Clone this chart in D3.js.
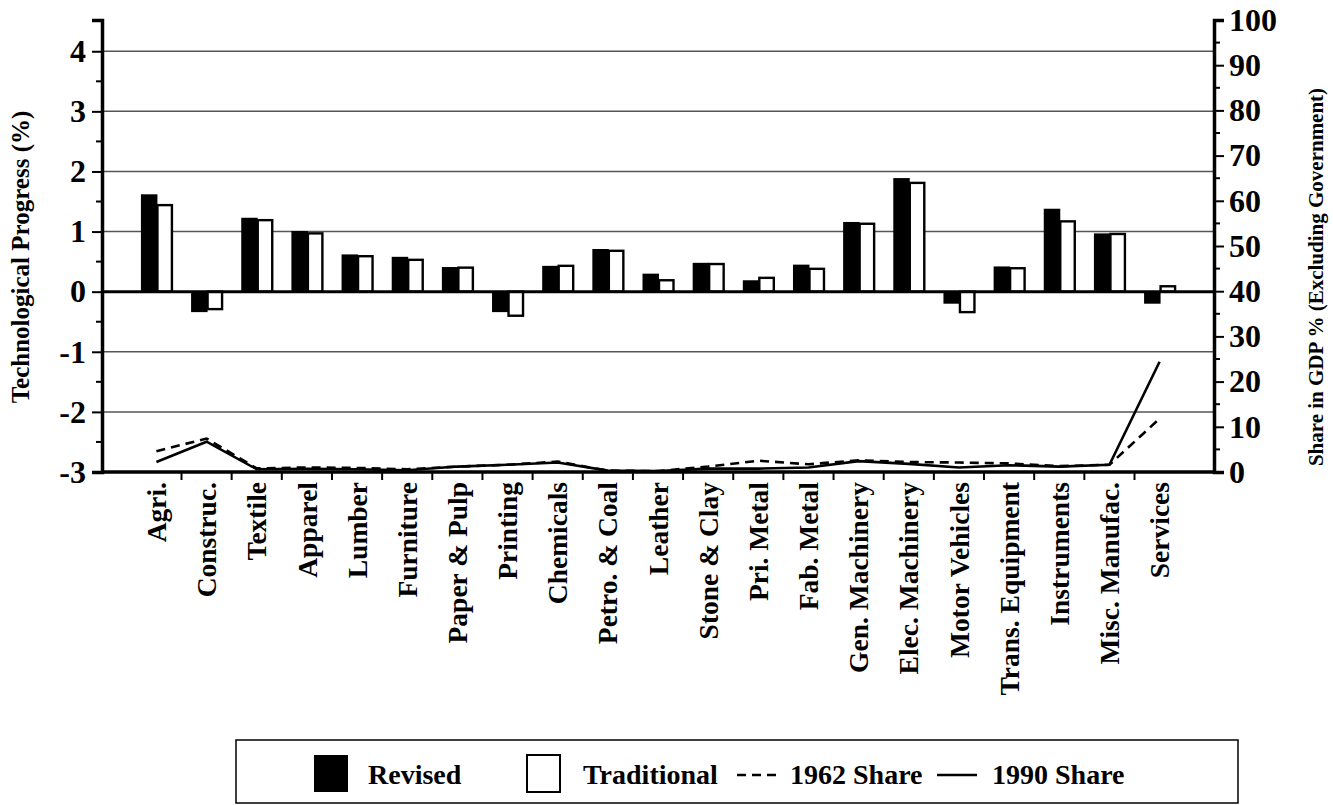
<!DOCTYPE html>
<html>
<head>
<meta charset="utf-8">
<script src="https://cdn.jsdelivr.net/npm/d3@7"></script>
<style>
  html, body { margin: 0; padding: 0; background: #fff; }
  svg { display: block; font-family: "Liberation Serif", "Times New Roman", serif; font-weight: bold; }
</style>
</head>
<body>
<svg id="chart" width="1333" height="805"></svg>
<script>
// Industry categories along the x axis
const categories = ["Agri.", "Construc.", "Textile", "Apparel", "Lumber", "Furniture",
  "Paper & Pulp", "Printing", "Chemicals", "Petro. & Coal", "Leather", "Stone & Clay",
  "Pri. Metal", "Fab. Metal", "Gen. Machinery", "Elec. Machinery", "Motor Vehicles",
  "Trans. Equipment", "Instruments", "Misc. Manufac.", "Services"];

// Technological progress (%), left axis
const revised     = [1.62, -0.34, 1.23, 1.01, 0.62, 0.58, 0.41, -0.34, 0.43, 0.71, 0.30, 0.48, 0.19, 0.45, 1.16, 1.89, -0.20, 0.42, 1.38, 0.97, -0.20];
const traditional = [1.44, -0.29, 1.19, 0.97, 0.59, 0.53, 0.40, -0.40, 0.43, 0.68, 0.19, 0.46, 0.23, 0.38, 1.13, 1.81, -0.34, 0.39, 1.17, 0.96, 0.09];

// Share in GDP % (excluding government), right axis
const share1962 = [4.6, 7.4, 0.8, 1.0, 0.9, 0.6, 1.2, 1.6, 2.3, 0.3, 0.2, 1.2, 2.5, 1.7, 2.6, 2.2, 2.1, 1.9, 1.3, 1.6, 11.8];
const share1990 = [2.2, 6.7, 0.6, 0.7, 0.6, 0.4, 1.2, 1.6, 2.1, 0.3, 0.2, 0.75, 0.75, 1.0, 2.4, 1.8, 1.0, 1.5, 1.2, 1.6, 24.4];

// Axis ticks
const leftTicks  = [-3, -2, -1, 0, 1, 2, 3, 4];
const leftMinor  = [-2.5, -1.5, -0.5, 0.5, 1.5, 2.5, 3.5];
const rightTicks = [0, 10, 20, 30, 40, 50, 60, 70, 80, 90, 100];
const rightMinor = [5, 15, 25, 35, 45, 55, 65, 75, 85, 95];

const legendItems = [
  { label: "Revised", kind: "solidbox" },
  { label: "Traditional", kind: "openbox" },
  { label: "1962 Share", kind: "dash" },
  { label: "1990 Share", kind: "line" }
];

const svg = d3.select("#chart");
const plot = { left: 102, right: 1214, top: 20, bottom: 472 };

const x = d3.scaleBand().domain(categories)
  .range([plot.left, plot.right]).paddingInner(0).paddingOuter(0.585);
const yL = d3.scaleLinear().domain([-3, 4.52]).range([plot.bottom, plot.top]);
const yR = d3.scaleLinear().domain([0, 100]).range([plot.bottom, plot.top]);

// Horizontal grid lines at left-axis majors
svg.append("g").selectAll("line")
  .data(leftTicks.filter(d => d !== 0 && d !== -3))
  .join("line")
  .attr("x1", plot.left).attr("x2", plot.right)
  .attr("y1", d => yL(d)).attr("y2", d => yL(d))
  .attr("stroke", "#555").attr("stroke-width", 1.5);

// Bars
const half = 15.5;
const cx = d => x(d) + x.bandwidth() / 2;
const bars = svg.append("g");
bars.selectAll("rect.rev").data(categories).join("rect")
  .attr("class", "rev")
  .attr("x", d => cx(d) - half)
  .attr("width", half + 1)
  .attr("y", (d, i) => Math.min(yL(revised[i]), yL(0)))
  .attr("height", (d, i) => Math.abs(yL(revised[i]) - yL(0)))
  .attr("fill", "#000");
bars.selectAll("rect.trad").data(categories).join("rect")
  .attr("class", "trad")
  .attr("x", d => cx(d) + 1)
  .attr("width", half - 1)
  .attr("y", (d, i) => Math.min(yL(traditional[i]), yL(0)))
  .attr("height", (d, i) => Math.abs(yL(traditional[i]) - yL(0)))
  .attr("fill", "#fff").attr("stroke", "#000").attr("stroke-width", 2.4);

// Zero line
svg.append("line")
  .attr("x1", plot.left).attr("x2", plot.right)
  .attr("y1", yL(0)).attr("y2", yL(0))
  .attr("stroke", "#000").attr("stroke-width", 3);

// Share lines
const line = arr => d3.line()
  .x((d, i) => cx(categories[i]))
  .y(d => yR(d))(arr);
svg.append("path").attr("d", line(share1962))
  .attr("fill", "none").attr("stroke", "#000").attr("stroke-width", 2.6)
  .attr("stroke-dasharray", "9,6");
svg.append("path").attr("d", line(share1990))
  .attr("fill", "none").attr("stroke", "#000").attr("stroke-width", 2.6);

const fmt = d => String(d);

// Left axis
const gL = svg.append("g").attr("transform", `translate(${plot.left},0)`)
  .call(d3.axisLeft(yL).tickValues(leftTicks).tickSize(10).tickSizeOuter(10).tickPadding(6).tickFormat(fmt));
gL.selectAll("line").attr("stroke-width", 2);
gL.select(".domain").attr("stroke-width", 3.5);
gL.selectAll("text").attr("font-size", 32).attr("font-family", "Liberation Serif").attr("font-weight", "bold").attr("fill", "#000");
svg.append("g").selectAll("line").data(leftMinor).join("line")
  .attr("x1", plot.left - 6).attr("x2", plot.left)
  .attr("y1", d => yL(d)).attr("y2", d => yL(d))
  .attr("stroke", "#000").attr("stroke-width", 2);

// Right axis
const gR = svg.append("g").attr("transform", `translate(${plot.right},0)`)
  .call(d3.axisRight(yR).tickValues(rightTicks).tickSize(10).tickSizeOuter(10).tickPadding(5).tickFormat(fmt));
gR.selectAll("line").attr("stroke-width", 2);
gR.select(".domain").attr("stroke-width", 3.5);
gR.selectAll("text").attr("font-size", 32).attr("font-family", "Liberation Serif").attr("font-weight", "bold").attr("fill", "#000");
svg.append("g").selectAll("line").data(rightMinor).join("line")
  .attr("x1", plot.right).attr("x2", plot.right + 6)
  .attr("y1", d => yR(d)).attr("y2", d => yR(d))
  .attr("stroke", "#000").attr("stroke-width", 2);

// Bottom axis: ticks between categories
const bounds = categories.slice(1).map(d => x(d));
svg.append("line")
  .attr("x1", plot.left).attr("x2", plot.right)
  .attr("y1", plot.bottom).attr("y2", plot.bottom)
  .attr("stroke", "#000").attr("stroke-width", 3.5);
svg.append("g").selectAll("line").data(bounds).join("line")
  .attr("x1", d => d).attr("x2", d => d)
  .attr("y1", plot.bottom).attr("y2", plot.bottom + 8)
  .attr("stroke", "#000").attr("stroke-width", 2);

// Category labels
svg.append("g").selectAll("text").data(categories).join("text")
  .attr("transform", d => `translate(${cx(d)},${plot.bottom + 10}) rotate(-90)`)
  .attr("text-anchor", "end").attr("dy", "0.35em")
  .attr("font-size", 27.5).attr("fill", "#000")
  .text(d => d);

// Axis titles
svg.append("text")
  .attr("transform", `translate(20,257) rotate(-90)`)
  .attr("text-anchor", "middle").attr("dy", "0.35em")
  .attr("font-size", 25).text("Technological Progress (%)");
svg.append("text")
  .attr("transform", `translate(1316,277) rotate(-90)`)
  .attr("text-anchor", "middle").attr("dy", "0.35em")
  .attr("font-size", 21).text("Share in GDP % (Excluding Government)");

// Legend
const lg = svg.append("g");
lg.append("rect").attr("x", 236).attr("y", 740).attr("width", 1002).attr("height", 63)
  .attr("fill", "#fff").attr("stroke", "#000").attr("stroke-width", 1.5);
const legendX = [314, 527, 737, 937];
const textX = [368, 583, 790, 992];
legendItems.forEach((it, i) => {
  const g = lg.append("g");
  if (it.kind === "solidbox") {
    g.append("rect").attr("x", legendX[i]).attr("y", 755).attr("width", 34).attr("height", 37).attr("fill", "#000");
  } else if (it.kind === "openbox") {
    g.append("rect").attr("x", legendX[i]).attr("y", 755).attr("width", 33).attr("height", 37)
      .attr("fill", "#fff").attr("stroke", "#000").attr("stroke-width", 2);
  } else {
    g.append("line").attr("x1", legendX[i]).attr("x2", legendX[i] + 40)
      .attr("y1", 775).attr("y2", 775).attr("stroke", "#000").attr("stroke-width", 2.6)
      .attr("stroke-dasharray", it.kind === "dash" ? "9,6" : null);
  }
  g.append("text").attr("x", textX[i]).attr("y", 784).attr("font-size", 28).attr("fill", "#000").text(it.label);
});
</script>
</body>
</html>
